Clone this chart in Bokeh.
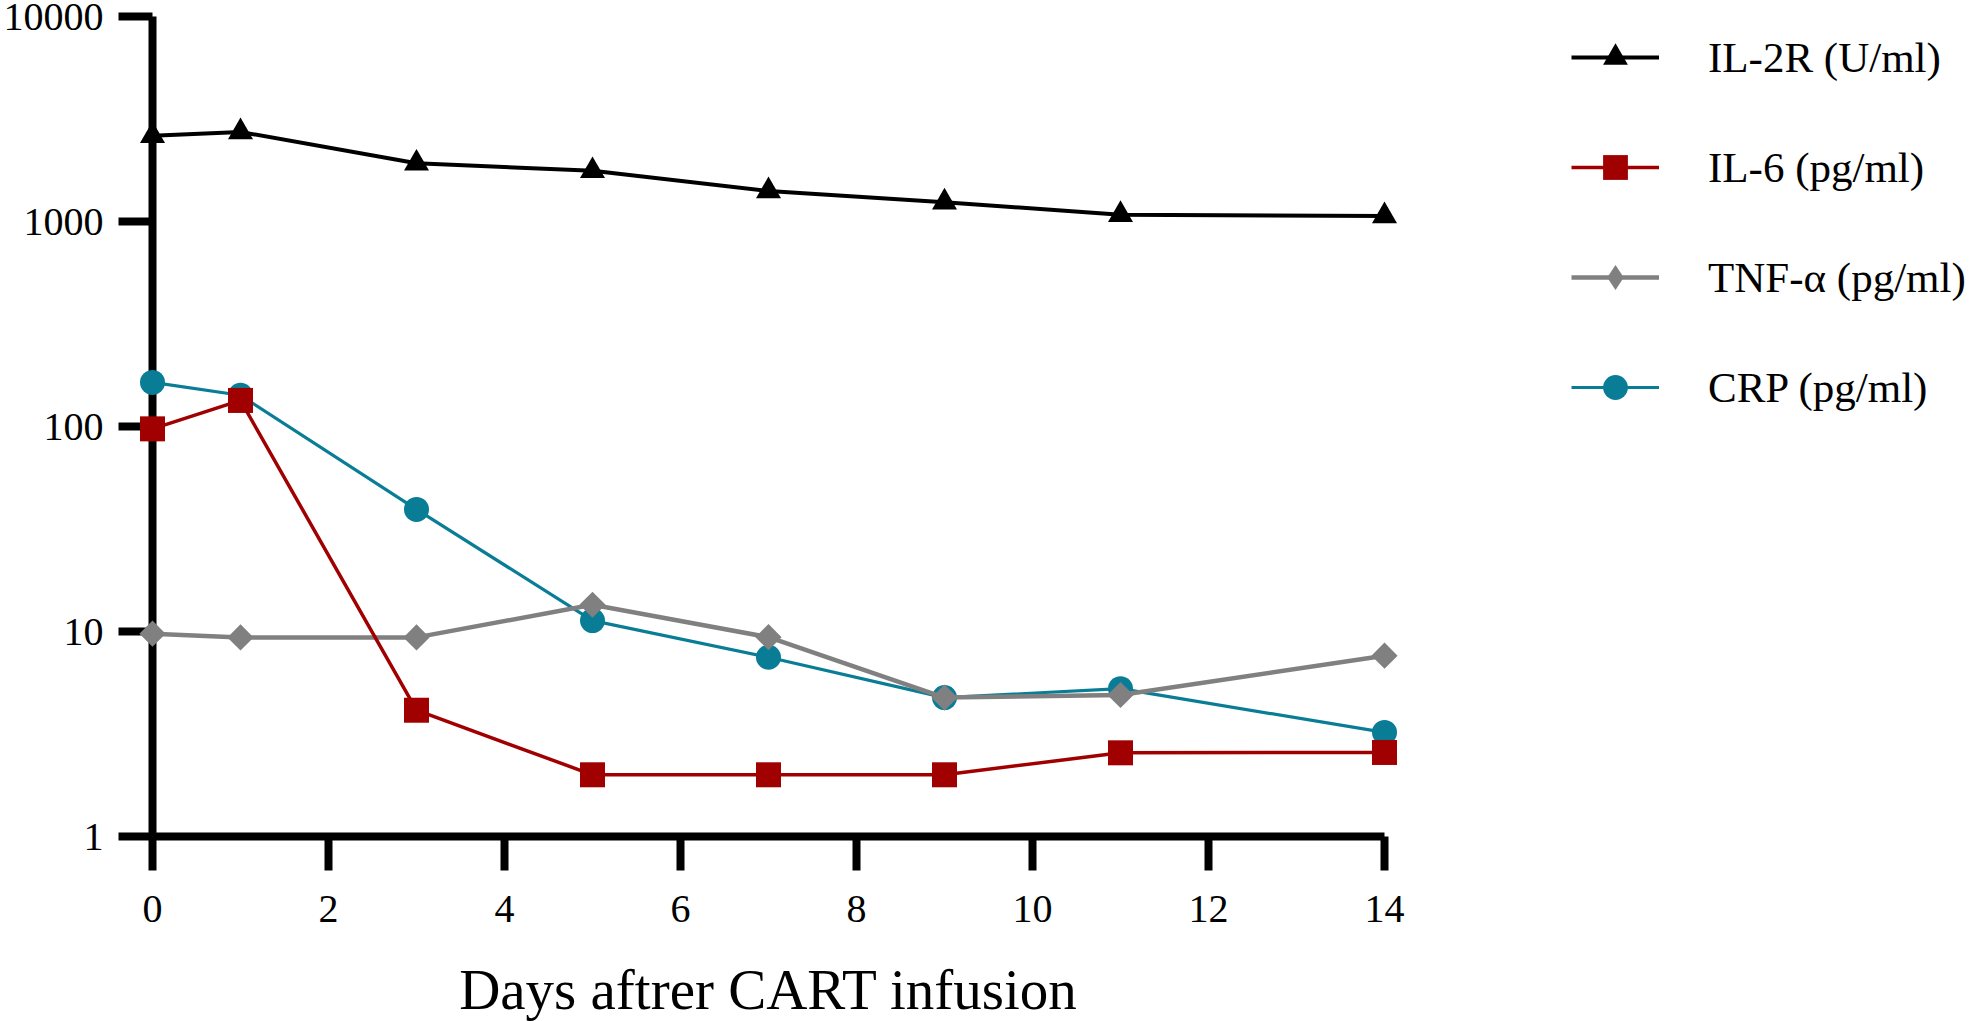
import math
from bokeh.plotting import figure
from bokeh.models import Range1d, FixedTicker, PrintfTickFormatter, Legend, LegendItem
from bokeh.embed import file_html
from bokeh.resources import INLINE

# ---- data ----
days = [0, 1, 3, 5, 7, 9, 11, 14]
il2r = [2620, 2735, 1922, 1767, 1410, 1242, 1079, 1064]
il6 = [97.4, 134, 4.13, 2.0, 2.0, 2.0, 2.56, 2.57]
tnf = [9.76, 9.36, 9.36, 13.5, 9.38, 4.76, 4.9, 7.62]
crp = [164, 142, 39.4, 11.3, 7.49, 4.76, 5.26, 3.22]

labels = ["IL-2R (U/ml)", "IL-6 (pg/ml)", "TNF-\u03b1 (pg/ml)", "CRP (pg/ml)"]
x_ticks = [0, 2, 4, 6, 8, 10, 12, 14]
y_ticks = [1, 10, 100, 1000, 10000]
x_label = "Days aftrer CART infusion"

FONT = "Liberation Serif"

p = figure(frame_width=1232, frame_height=820,
           x_range=Range1d(0, 14), y_range=Range1d(1, 10000),
           y_axis_type="log",
           output_backend="svg", toolbar_location=None,
           min_border_left=151, min_border_top=16,
           min_border_right=580, min_border_bottom=0)
p.grid.visible = False
p.outline_line_color = None
p.background_fill_color = "white"
p.border_fill_color = "white"

for ax in (p.xaxis[0], p.yaxis[0]):
    ax.axis_line_width = 8
    ax.axis_line_color = "black"
    ax.major_tick_line_width = 8
    ax.major_tick_line_color = "black"
    ax.minor_tick_line_color = None
    ax.major_tick_in = 0
    ax.major_tick_out = 34
    ax.major_label_text_font = FONT
    ax.major_label_text_font_size = "40px"
    ax.major_label_text_color = "black"

p.xaxis.ticker = FixedTicker(ticks=x_ticks, minor_ticks=[])
p.yaxis.ticker = FixedTicker(ticks=y_ticks, minor_ticks=[])
p.yaxis.formatter = PrintfTickFormatter(format="%d")
p.yaxis.major_label_standoff = 15
p.xaxis.major_label_standoff = 25

p.xaxis.axis_label = x_label
p.xaxis.axis_label_text_font = FONT
p.xaxis.axis_label_text_font_size = "57px"
p.xaxis.axis_label_text_font_style = "normal"
p.xaxis.axis_label_text_color = "black"
p.xaxis.axis_label_standoff = 33

GRAY = "#808080"

# draw order: CRP, TNF, IL-6, IL-2R (later on top)
c_l = p.line(days, crp, line_color="#0A7D96", line_width=3.2, level="overlay")
c_s = p.scatter(days, crp, marker="circle", size=25, fill_color="#0A7D96",
                line_color=None, level="overlay")
t_l = p.line(days, tnf, line_color=GRAY, line_width=4.5, level="overlay")
# diamond drawn under the rotated squares; it supplies the legend symbol
t_leg = p.scatter(days, tnf, marker="diamond", size=24,
                  fill_color=GRAY, line_color=None, level="overlay")
t_s = p.scatter(days, tnf, marker="square", angle=math.pi / 4, size=18.5,
                fill_color=GRAY, line_color=None, level="overlay")
r_l = p.line(days, il6, line_color="#A00000", line_width=3.5, level="overlay")
r_s = p.scatter(days, il6, marker="square", size=25, fill_color="#A00000",
                line_color=None, level="overlay")
k_l = p.line(days, il2r, line_color="black", line_width=4, level="overlay")
k_s = p.scatter(days, il2r, marker="triangle", size=25, fill_color="black",
                line_color=None, level="overlay")

legend = Legend(items=[
    LegendItem(label=labels[0], renderers=[k_l, k_s]),
    LegendItem(label=labels[1], renderers=[r_l, r_s]),
    LegendItem(label=labels[2], renderers=[t_l, t_leg]),
    LegendItem(label=labels[3], renderers=[c_l, c_s]),
], location=(187, 418), glyph_width=88, glyph_height=62, spacing=48,
    label_standoff=49, label_text_font=FONT, label_text_font_size="43px",
    label_text_color="black", padding=0, margin=0,
    border_line_color=None, background_fill_alpha=0)
p.add_layout(legend, "right")

open("out.html", "w").write(file_html(p, INLINE))
